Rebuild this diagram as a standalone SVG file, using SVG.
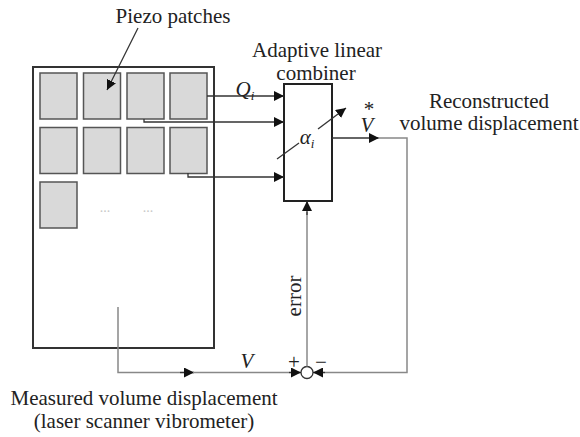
<svg xmlns="http://www.w3.org/2000/svg" width="580" height="437" viewBox="0 0 580 437">
<defs>
<style>
text{font-family:"Liberation Serif","Times New Roman","DejaVu Serif",serif;fill:#222;font-size:21px}
.it{font-style:italic}
.ln{fill:none;stroke:#333;stroke-width:1.3}
.gl{fill:none;stroke:#888;stroke-width:1.5}
.patch{fill:#d9d9d9;stroke:#555;stroke-width:1.5}
.dots{fill:#c8c8c8;font-size:14px}
</style>
<marker id="ah" viewBox="0 0 10 10" refX="10" refY="5" markerWidth="10" markerHeight="10" markerUnits="userSpaceOnUse" orient="auto">
<path d="M0,0 L10,5 L0,10 z" fill="#111"/>
</marker>
</defs>
<rect width="580" height="437" fill="#fff"/>
<g id="panel">
<rect x="33" y="67" width="181" height="281" fill="none" stroke="#333" stroke-width="2"/>
<rect class="patch" x="40" y="73" width="37" height="46"/>
<rect class="patch" x="83.5" y="73" width="37" height="46"/>
<rect class="patch" x="127" y="73" width="37" height="46"/>
<rect class="patch" x="170" y="73" width="37" height="46"/>
<rect class="patch" x="40" y="127.5" width="37" height="46"/>
<rect class="patch" x="83.5" y="127.5" width="37" height="46"/>
<rect class="patch" x="127" y="127.5" width="37" height="46"/>
<rect class="patch" x="170" y="127.5" width="37" height="46"/>
<rect class="patch" x="40" y="182" width="37" height="46"/>
<text class="dots" x="105" y="212" text-anchor="middle">...</text>
<text class="dots" x="148" y="212" text-anchor="middle">...</text>
</g>
<g id="piezo-label">
<text x="173" y="23" text-anchor="middle">Piezo patches</text>
</g>
<g id="combiner">
<rect x="284" y="84" width="48" height="117" fill="#fff" stroke="#222" stroke-width="2"/>
<text x="317" y="57" text-anchor="middle">Adaptive linear</text>
<text x="316" y="80" text-anchor="middle">combiner</text>
<text class="it" x="307" y="144" text-anchor="middle" font-size="20">α<tspan font-size="13" dy="4">i</tspan></text>
</g>
<g id="output-label">
<text x="489" y="108" text-anchor="middle">Reconstructed</text>
<text x="489" y="130" text-anchor="middle">volume displacement</text>
</g>
<g id="measured-label">
<text x="144" y="405" text-anchor="middle">Measured volume displacement</text>
<text x="144" y="428" text-anchor="middle">(laser scanner vibrometer)</text>
</g>
<g id="sum">
<circle cx="307" cy="372.5" r="6" fill="#fff" stroke="#333" stroke-width="1.3"/>
<text x="294" y="369" text-anchor="middle" font-size="18">+</text>
<text x="321" y="369" text-anchor="middle" font-size="18">−</text>
</g>
<g id="connectors">
<line class="ln" x1="138" y1="28" x2="107" y2="90" marker-end="url(#ah)"/>
<polyline class="ln" points="207,96 284,96" marker-end="url(#ah)"/>
<polyline class="ln" points="144,119 144,122 284,122" marker-end="url(#ah)"/>
<polyline class="ln" points="188,173 188,177 284,177" marker-end="url(#ah)"/>
<line class="ln" x1="277" y1="159" x2="299" y2="143"/>
<line class="ln" x1="318" y1="129" x2="346" y2="108" marker-end="url(#ah)"/>
<line class="ln" x1="332" y1="138" x2="379" y2="138" marker-end="url(#ah)"/>
<polyline class="gl" points="378,138 407,138 407,372.5 313,372.5"/>
<line class="ln" x1="325" y1="372.5" x2="313" y2="372.5" marker-end="url(#ah)"/>
<polyline class="gl" points="118,307 118,372.5 194,372.5"/>
<line class="ln" x1="180" y1="372.5" x2="194" y2="372.5" marker-end="url(#ah)"/>
<line class="gl" x1="193" y1="372.5" x2="301" y2="372.5"/>
<line class="ln" x1="289" y1="372.5" x2="301" y2="372.5" marker-end="url(#ah)"/>
<line class="gl" x1="307" y1="366.5" x2="307" y2="212"/>
<line class="ln" x1="307" y1="215" x2="307" y2="201" marker-end="url(#ah)"/>
<text x="301" y="296" text-anchor="middle" transform="rotate(-90 301 296)">error</text>
<text class="it" x="245" y="96" text-anchor="middle">Q<tspan font-size="13" dy="4">i</tspan></text>
<text class="it" x="367" y="131.5" text-anchor="middle" font-size="19">V</text>
<text x="369" y="116" text-anchor="middle" font-size="11">*</text>
<text class="it" x="247" y="368" text-anchor="middle" font-size="20">V</text>
</g>
</svg>
